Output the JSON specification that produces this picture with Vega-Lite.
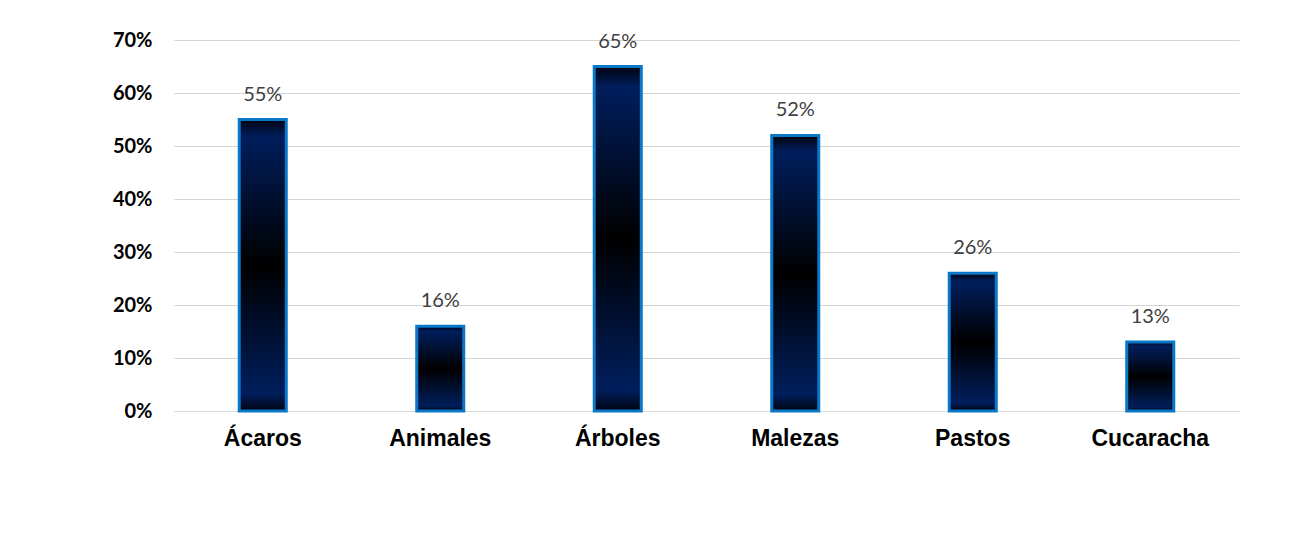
{
  "$schema": "https://vega.github.io/schema/vega-lite/v6.json",
  "autosize": {"type": "none"},
  "padding": {"left": 174, "top": 40, "right": 51, "bottom": 135},
  "width": 1065,
  "height": 371,
  "background": "white",
  "data": {
    "values": [
      {"categoria": "Ácaros", "valor": 0.55},
      {"categoria": "Animales", "valor": 0.16},
      {"categoria": "Árboles", "valor": 0.65},
      {"categoria": "Malezas", "valor": 0.52},
      {"categoria": "Pastos", "valor": 0.26},
      {"categoria": "Cucaracha", "valor": 0.13}
    ]
  },
  "encoding": {
    "x": {
      "field": "categoria",
      "type": "nominal",
      "sort": null,
      "scale": {"paddingInner": 0.735, "paddingOuter": 0.3675},
      "axis": {
        "title": null,
        "labelAngle": 0,
        "labelFont": "Liberation Sans",
        "labelFontWeight": "bold",
        "labelFontSize": 23,
        "labelColor": "#000000",
        "labelPadding": 16,
        "ticks": false,
        "domainColor": "#d9d9d9",
        "domainWidth": 1
      }
    },
    "y": {
      "field": "valor",
      "type": "quantitative",
      "scale": {"domain": [0, 0.7], "nice": false},
      "axis": {
        "title": null,
        "values": [0, 0.1, 0.2, 0.3, 0.4, 0.5, 0.6, 0.7],
        "format": ".0%",
        "labelFont": "Lato",
        "labelFontWeight": "bold",
        "labelFontSize": 20,
        "labelColor": "#000000",
        "labelPadding": 22,
        "ticks": false,
        "domain": false,
        "gridColor": "#d4d4d4",
        "gridWidth": 1
      }
    }
  },
  "layer": [
    {
      "mark": {
        "type": "bar",
        "stroke": "#0a78c8",
        "strokeWidth": 3,
        "fill": {
          "gradient": "linear",
          "x1": 0, "y1": 0, "x2": 0, "y2": 1,
          "stops": [
            {"offset": 0, "color": "#000410"},
            {"offset": 0.06, "color": "#001e5c"},
            {"offset": 0.5, "color": "#000000"},
            {"offset": 0.94, "color": "#001e5c"},
            {"offset": 1, "color": "#000410"}
          ]
        }
      }
    },
    {
      "mark": {
        "type": "text",
        "baseline": "alphabetic",
        "dy": -19,
        "font": "Lato",
        "fontSize": 20,
        "color": "#404040"
      },
      "encoding": {
        "text": {"field": "valor", "type": "quantitative", "format": ".0%"}
      }
    }
  ],
  "config": {
    "view": {"stroke": null}
  }
}
